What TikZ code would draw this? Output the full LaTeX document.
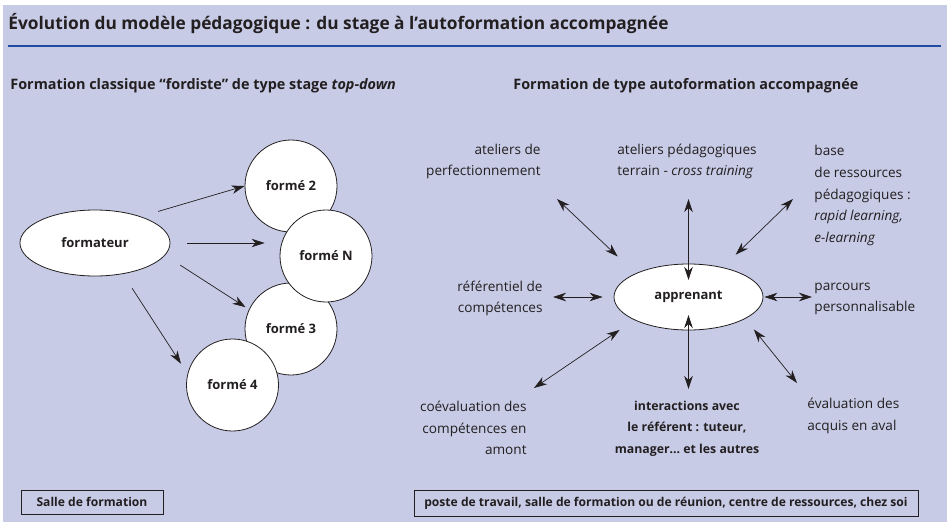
\documentclass[tikz,border=0pt]{standalone}
\usepackage{fontspec}
\setmainfont{Open Sans}
\usetikzlibrary{positioning, shapes.geometric, arrows.meta}
\definecolor{fond}{HTML}{C7CBE6}
\definecolor{filet}{HTML}{1F4EA0}
\definecolor{encre}{HTML}{231F20}
\tikzset{
  bulle/.style={draw, ellipse, fill=white, inner sep=0pt, font=\bfseries\fontsize{13}{15}\selectfont},
  rond/.style={draw, circle, fill=white, minimum size=92pt, inner sep=0pt, font=\bfseries\fontsize{13}{15}\selectfont},
  fleche/.style={draw, line width=0.7pt, -{Stealth[length=13pt,width=8.5pt,inset=4pt]}},
  dfleche/.style={draw, line width=0.7pt, {Stealth[length=13pt,width=8.5pt,inset=4pt]}-{Stealth[length=13pt,width=8.5pt,inset=4pt]}},
}

\begin{document}
\begin{tikzpicture}[x=1pt, y=-1pt, color=encre, line width=0.8pt]
  \tikzstyle{etiq}=[inner sep=0pt, font=\fontsize{13.6}{21.6}\selectfont]
  \tikzstyle{sous}=[anchor=base west, inner sep=0pt, font=\bfseries\fontsize{14.4}{16}\selectfont]
  \tikzstyle{cadre}=[draw, line width=0.9pt, inner sep=0pt, font=\bfseries\fontsize{12.1}{15}\selectfont]

  \fill[white] (0,0) rectangle (949,527);
  \fill[fond] (3,5) rectangle (947,522);

  \node[anchor=base west, inner sep=0pt, font=\bfseries\fontsize{17.3}{20}\selectfont] (titre) at (8,30)
    {Évolution du modèle pédagogique : du stage à l’autoformation accompagnée};
  \draw[filet, line width=1.2pt] (8,46) -- (941,46);

  \node[sous] (classique) at (10,89.5) {Formation classique “fordiste” de type stage \textit{top-down}};
  \node[sous] (autoformation) at (513,89.5) {Formation de type autoformation accompagnée};

  \node[bulle, minimum width=150pt, minimum height=66pt] (formateur) at (95,243) {formateur};
  \node[rond] (forme2) at (291,186) {formé 2};
  \node[rond] (forme3) at (291,329) {formé 3};
  \node[rond] (formeN) at (326,256) {formé N};
  \node[rond] (forme4) at (232.5,385) {formé 4};

  \path[fleche, shorten <=18pt] (formateur.30) -- (forme2.west);
  \path[fleche, shorten <=17pt, shorten >=15pt] (formateur.east) -- (formateur.east -| formeN.west);
  \path[fleche, shorten <=18pt, shorten >=4pt] (formateur.-10) -- (forme3.155);
  \path[fleche, shorten <=17pt, shorten >=12pt] (formateur.-48) -- (forme4.166);

  \node[bulle, minimum width=149pt, minimum height=66pt] (apprenant) at (688.5,297) {apprenant};

  \node[etiq, anchor=east, align=right] (ateliers) at (541,161.5) {ateliers de\\perfectionnement};
  \node[etiq, anchor=west, align=left] (terrain) at (617,161.5) {ateliers pédagogiques\\terrain - \textit{cross training}};
  \node[etiq, anchor=west, align=left] (ressources) at (814,195.5)
    {base\\de ressources\\pédagogiques :\\\textit{rapid learning,}\\\textit{e-learning}};
  \node[etiq, anchor=east, align=right] (referentiel) at (543,298.5) {référentiel de\\compétences};
  \node[etiq, anchor=west, align=left] (parcours) at (814,299) {parcours\\personnalisable};
  \node[etiq, anchor=east, align=right] (coeval) at (527,428) {coévaluation des\\compétences en\\amont};
  \node[etiq, align=center, font=\bfseries\fontsize{12.3}{21.6}\selectfont] (interactions) at (687,428.5)
    {interactions avec\\le référent : tuteur,\\manager… et les autres};
  \node[etiq, anchor=west, align=left] (evaluation) at (807,416) {évaluation des\\acquis en aval};

  \coordinate (pAteliers) at (557,199);
  \coordinate (pTerrain) at (688.5,199);
  \coordinate (pRessources) at (793,199);
  \coordinate (pReferentiel) at (553,297);
  \coordinate (pParcours) at (812,297);
  \coordinate (pCoeval) at (534,388);
  \coordinate (pInteractions) at (688.5,389);
  \coordinate (pEvaluation) at (797,383);

  \path[dfleche, shorten <=24.5pt] (apprenant.156) -- (pAteliers);
  \path[dfleche, shorten <=17pt] (apprenant.center) -- (pTerrain);
  \path[dfleche, shorten <=18pt] (apprenant.41.3) -- (pRessources);
  \path[dfleche, shorten <=11pt] (apprenant.west) -- (pReferentiel);
  \path[dfleche, shorten <=1pt] (apprenant.east) -- (pParcours);
  \path[dfleche, shorten <=17.7pt] (apprenant.203.7) -- (pCoeval);
  \path[dfleche, shorten <=18pt] (apprenant.center) -- (pInteractions);
  \path[dfleche, shorten <=13.7pt] (apprenant.-21) -- (pEvaluation);

  \node[cadre, minimum width=142pt, minimum height=24pt] (salle) at (92,502) {Salle de formation};
  \node[cadre, minimum width=504pt, minimum height=26pt] (lieux) at (666,503.7)
    {poste de travail, salle de formation ou de réunion, centre de ressources, chez soi};
\end{tikzpicture}
\end{document}
